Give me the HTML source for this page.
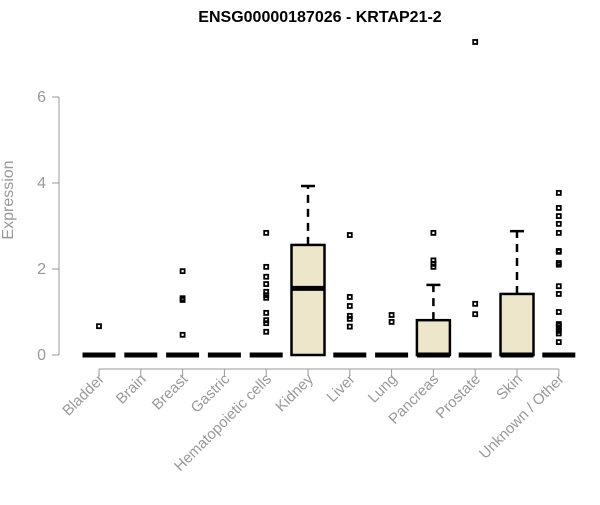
<!DOCTYPE html>
<html><head><meta charset="utf-8"><style>
body{margin:0;background:#fff}
svg{font-family:"Liberation Sans",Arial,sans-serif}
</style></head><body>
<svg id="c" width="600" height="500">
<text x="320" y="22" text-anchor="middle" font-weight="bold" font-size="16">ENSG00000187026 - KRTAP21-2</text>
<text transform="translate(13,200) rotate(-90)" text-anchor="middle" font-size="16" fill="#999">Expression</text>
<g id="g"></g>
</svg>
<script>
const categories=["Bladder","Brain","Breast","Gastric","Hematopoietic cells","Kidney","Liver","Lung","Pancreas","Prostate","Skin","Unknown / Other"];
const q1=[0,0,0,0,0,0,0,0,0,0,0,0];
const medians=[0,0,0,0,0,1.55,0,0,0,0,0,0];
const q3=[0,0,0,0,0,2.56,0,0,0.81,0,1.42,0];
const whiskerHigh=[0,0,0,0,0,3.93,0,0,1.63,0,2.88,0];
const outliers=[[0.67],[],[1.95,1.32,1.28,0.47],[],[2.84,2.05,1.82,1.65,1.47,1.39,1.33,0.98,0.81,0.74,0.54],[],[2.79,1.35,1.14,0.91,0.84,0.66],[0.93,0.77],[2.84,2.2,2.12,2.05],[7.28,1.19,0.95],[],[3.77,3.42,3.23,3.05,2.84,2.42,2.4,2.14,2.1,1.6,1.42,1.0,0.72,0.68,0.63,0.56,0.5,0.3]];
const yTicks=[0,2,4,6];
const NS="http://www.w3.org/2000/svg",g=document.getElementById('g');
const y=v=>355-v*43, x=i=>99+i*41.8;
function mk(t,a){const e=document.createElementNS(NS,t);for(const k in a)e.setAttribute(k,a[k]);g.appendChild(e);return e;}
let e=mk('line',{x1:59,x2:59,y1:y(6),y2:y(0),stroke:'#999'});

yTicks.forEach(t=>{mk('line',{x1:52,x2:59,y1:y(t),y2:y(t),stroke:'#999'});
 const tx=mk('text',{x:46,y:y(t)+5,'text-anchor':'end','font-size':16,fill:'#999'});tx.textContent=t;
 });
e=mk('line',{x1:x(0),x2:x(11),y1:369,y2:369,stroke:'#999'});

categories.forEach((c,i)=>{
 const cx=x(i),w=16.5;
 mk('line',{x1:cx,x2:cx,y1:369,y2:376,stroke:'#999'});
 const tx=mk('text',{transform:`translate(${cx+6},${380}) rotate(-45)`,'text-anchor':'end','font-size':15,fill:'#999'});tx.textContent=c;
 
 if(whiskerHigh[i]>q3[i]){
  mk('line',{x1:cx,x2:cx,y1:y(q3[i]),y2:y(whiskerHigh[i]),stroke:'#000','stroke-width':2.5,'stroke-dasharray':'8,6'});
  mk('line',{x1:cx-7,x2:cx+7,y1:y(whiskerHigh[i]),y2:y(whiskerHigh[i]),stroke:'#000','stroke-width':2.5});
 }
 if(q3[i]>q1[i]){const b=mk('rect',{x:cx-w,y:y(q3[i]),width:2*w,height:y(q1[i])-y(q3[i]),fill:'#ede6cb',stroke:'#000','stroke-width':2.5});
  }
 const m=mk('line',{x1:cx-w,x2:cx+w,y1:y(medians[i]),y2:y(medians[i]),stroke:'#000','stroke-width':5});
 
 outliers[i].forEach(v=>{const p=mk('rect',{x:cx-2,y:y(v)-2,width:4,height:4,fill:'none',stroke:'#000','stroke-width':1.8});
  });
});
</script>
</body></html>
